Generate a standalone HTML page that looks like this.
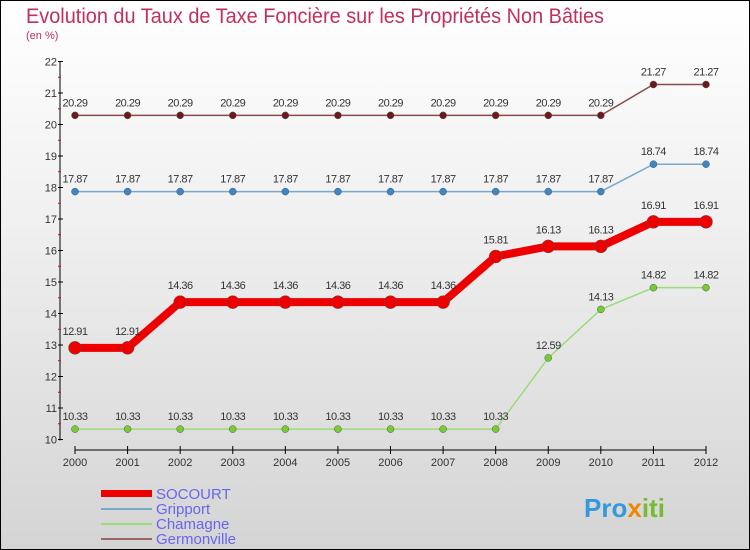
<!DOCTYPE html>
<html><head><meta charset="utf-8"><style>
html,body{margin:0;padding:0}
body{width:750px;height:550px;overflow:hidden;font-family:"Liberation Sans",sans-serif}
#wrap{position:relative;width:748px;height:548px;border:1px solid #000;background:linear-gradient(#fff 0%,#f0f0f0 40%,#d4d4d4 100%)}
</style></head><body>
<div id="wrap">
<svg id="chart" width="748" height="548" style="position:absolute;left:0;top:0">
<text x="25" y="22" font-size="21" fill="#c0305a" textLength="578" lengthAdjust="spacingAndGlyphs">Evolution du Taux de Taxe Foncière sur les Propriétés Non Bâties</text>
<text x="25" y="38" font-size="11" fill="#c0305a">(en %)</text>
<g id="axes"></g><g id="series"></g>
<g>
<rect x="100" y="489" width="51" height="7" fill="#e00"/>
<text x="155" y="498" font-size="15" fill="#6666ee">SOCOURT</text>
<rect x="100" y="507" width="51" height="2" fill="#7aa8cc"/>
<text x="155" y="513" font-size="15" fill="#6666ee">Gripport</text>
<rect x="100" y="522" width="51" height="2" fill="#99dd77"/>
<text x="155" y="528" font-size="15" fill="#6666ee">Chamagne</text>
<rect x="100" y="537" width="51" height="2" fill="#996666"/>
<text x="155" y="543" font-size="15" fill="#6666ee">Germonville</text>
</g>
<text x="583" y="516" font-size="26" font-weight="bold" fill="#3399dd">Pro<tspan fill="#ee8800">x</tspan><tspan fill="#77bb33">iti</tspan></text>
</svg>
</div>
<script>
const years=[2000,2001,2002,2003,2004,2005,2006,2007,2008,2009,2010,2011,2012];
const socourt=[12.91,12.91,14.36,14.36,14.36,14.36,14.36,14.36,15.81,16.13,16.13,16.91,16.91];
const gripport=[17.87,17.87,17.87,17.87,17.87,17.87,17.87,17.87,17.87,17.87,17.87,18.74,18.74];
const chamagne=[10.33,10.33,10.33,10.33,10.33,10.33,10.33,10.33,10.33,12.59,14.13,14.82,14.82];
const germonville=[20.29,20.29,20.29,20.29,20.29,20.29,20.29,20.29,20.29,20.29,20.29,21.27,21.27];
const yTicks=[10,11,12,13,14,15,16,17,18,19,20,21,22];
const NS="http://www.w3.org/2000/svg";
function X(i){return 74+i*(631/12);}
function Y(v){return 438.5-(v-10)*(378/12);}
function mk(tag,at,parent){const e=document.createElementNS(NS,tag);for(const k in at)e.setAttribute(k,at[k]);parent.appendChild(e);return e;}
const axes=document.getElementById('axes');
let e=mk('line',{x1:59,y1:Y(22),x2:59,y2:Y(10)+1,stroke:'#000'},axes);


yTicks.forEach(v=>{
  mk('line',{x1:57,y1:Y(v),x2:62,y2:Y(v),stroke:'#000'},axes);
  if(v<22)mk('line',{x1:57,y1:Y(v+0.5),x2:60,y2:Y(v+0.5),stroke:'#e00'},axes);
  const t=mk('text',{x:56,y:Y(v)+4,'text-anchor':'end','font-size':11,fill:'#333'},axes);
  t.textContent=v;
  
  
});
e=mk('line',{x1:74,y1:449,x2:705,y2:449,stroke:'#000'},axes);


years.forEach((y,i)=>{
  mk('line',{x1:X(i),y1:445,x2:X(i),y2:453,stroke:'#000'},axes);
  const t=mk('text',{x:X(i),y:465,'text-anchor':'middle','font-size':11,fill:'#333'},axes);
  t.textContent=y;
  
  
});
const ser=document.getElementById('series');
function draw(vals,name,color,fill,w,r){
  const g=mk('g',{},ser);
  
  
  const p=mk('polyline',{points:vals.map((v,i)=>X(i)+','+Y(v)).join(' '),fill:'none',stroke:color,'stroke-width':w,'stroke-linejoin':'round'},g);
  
  
  vals.forEach((v,i)=>{
    const c=mk('circle',{cx:X(i),cy:Y(v),r:r,fill:fill,stroke:'#555','stroke-width':0.5},g);
    
    
    const t=mk('text',{x:X(i),y:Y(v)-9-(r>4?4:0),'text-anchor':'middle','font-size':11,fill:'#333','letter-spacing':'-0.5'},g);
    t.textContent=v.toFixed(2);
    
    
  });
}
draw(germonville,'germonville','#8a4a4a','#6b1a1a',1.5,3.5);
draw(gripport,'gripport','#7aa8cc','#3a88cc',1.5,3.5);
draw(chamagne,'chamagne','#99dd77','#77cc33',1.5,3.5);
draw(socourt,'socourt','#ee0000','#ee0000',8,6.5);
</script>
</body></html>
